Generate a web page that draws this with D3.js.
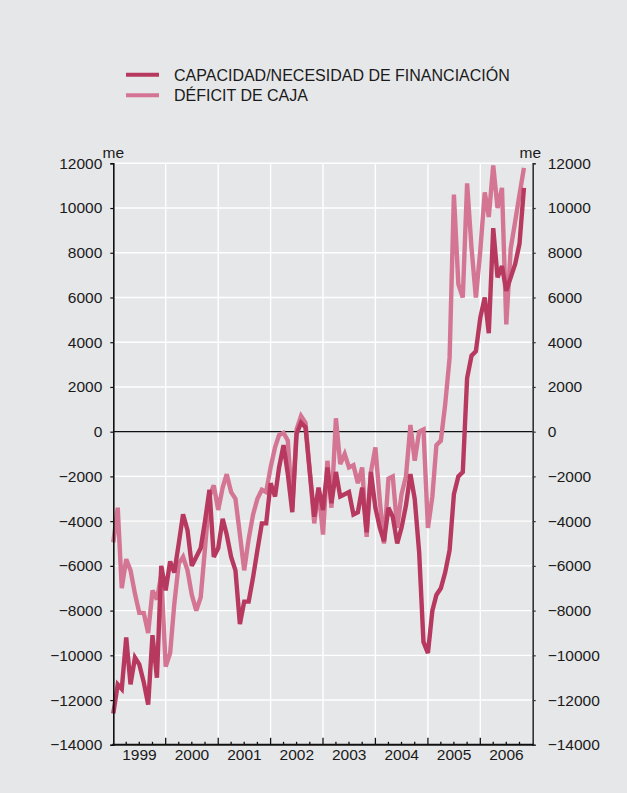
<!DOCTYPE html>
<html>
<head>
<meta charset="utf-8">
<script src="https://cdn.jsdelivr.net/npm/d3@7"></script>
<style>
  html, body { margin: 0; padding: 0; background: #e6e7e9; }
  svg { display: block; }
  text { font-family: "Liberation Sans", Arial, Helvetica, sans-serif; fill: #1a1a1a; }
</style>
</head>
<body>
<svg id="chart" width="627" height="793"></svg>
<script>
// Monthly series, January 1999 – November 2006 (millones de euros)
const startYear = 1999;
const capacidad = [
  -12600, -11300, -11500, -9200, -11300, -10100, -10400, -11200, -12200, -9100, -11000, -6000,
  -7100, -5800, -6300, -5000, -3700, -4400, -6000, -5600, -5200, -4000, -2600, -5600,
  -5200, -3900, -4600, -5600, -6200, -8600, -7600, -7600, -6500, -5300, -4100, -4100,
  -2300, -2900, -1600, -600, -1900, -3600, -100, 400, 200, -1800, -3800, -2500,
  -3500, -1600, -3200, -1800, -2900, -2800, -2700, -3700, -3600, -2500, -4500, -1800,
  -3400, -4300, -4900, -3400, -3800, -5000, -4300, -3300, -1900, -3000, -5400, -9400,
  -9900, -8000, -7300, -7000, -6300, -5300, -2800, -2000, -1800, 2400, 3400, 3600,
  5100, 6000, 4400, 9100, 6900, 7400, 6300, 6900, 7500, 8400, 10900
];
const deficitCaja = [
  -4950, -3400, -7000, -5700, -6200, -7250, -8100, -8100, -9000, -7100, -7500, -6400,
  -10500, -9900, -7700, -5900, -5600, -6200, -7300, -8000, -7400, -5200, -2900, -2400,
  -3500, -2500, -1900, -2700, -3000, -4600, -6200, -4800, -3700, -3000, -2600, -2700,
  -1600, -700, -150, -50, -400, -3400, 100, 700, 400, -1800, -4100, -2600,
  -4600, -1300, -3400, 600, -1450, -1000, -1600, -1500, -2300, -1600, -4700, -1800,
  -700, -3100, -5000, -2100, -2000, -4300, -2800, -2000, 300, -1300, 0, 100,
  -4300, -2900, -600, -400, 1200, 3300, 10600, 6600, 6000, 11100, 8200, 6000,
  8100, 10700, 9600, 11900, 10000, 10900, 4800, 8200, 9400, 10600, 11800
];
const yTicks = [-14000, -12000, -10000, -8000, -6000, -4000, -2000, 0, 2000, 4000, 6000, 8000, 10000, 12000];
const yearLabels = ["1999", "2000", "2001", "2002", "2003", "2004", "2005", "2006"];
const seriesNames = ["CAPACIDAD/NECESIDAD DE FINANCIACIÓN", "DÉFICIT DE CAJA"];
const seriesColors = ["#b7395f", "#d37593"];
const unitLabel = "me";

const months = capacidad.map((_, i) => new Date(startYear, i, 1));

const svg = d3.select("#chart");
const W = 627, H = 793;
svg.append("rect").attr("width", W).attr("height", H).attr("fill", "#e6e7e9");

const x = d3.scaleTime()
  .domain([new Date(startYear, 0, 1), new Date(startYear + yearLabels.length, 0, 1)])
  .range([113.3, 532.7]);
const y = d3.scaleLinear().domain([-14000, 12000]).range([744.8, 163.3]);

const [x0, x1] = x.range();
const [yb, yt] = y.range();

// grid
const grid = svg.append("g");
grid.selectAll("line.h").data(yTicks.filter(v => v !== -14000 && v !== 0)).join("line")
  .attr("x1", x0).attr("x2", x1)
  .attr("y1", d => y(d)).attr("y2", d => y(d))
  .attr("stroke", "#ffffff").attr("stroke-width", 1.4);
const yearStarts = d3.range(1, yearLabels.length).map(k => new Date(startYear + k, 0, 1));
grid.selectAll("line.v").data(yearStarts).join("line")
  .attr("x1", d => x(d)).attr("x2", d => x(d))
  .attr("y1", yt).attr("y2", yb)
  .attr("stroke", "#ffffff").attr("stroke-width", 1.4);

// zero line
svg.append("line")
  .attr("x1", x0).attr("x2", x1).attr("y1", y(0)).attr("y2", y(0))
  .attr("stroke", "#111").attr("stroke-width", 1.2);

// series: cash deficit underneath, financing capacity on top
const line = d3.line().x((d, i) => x(months[i])).y(d => y(d));
[[deficitCaja, seriesColors[1]], [capacidad, seriesColors[0]]].forEach(([s, c]) => {
  svg.append("path").datum(s)
    .attr("d", line)
    .attr("fill", "none")
    .attr("stroke", c)
    .attr("stroke-width", 4.4)
    .attr("stroke-linejoin", "miter")
    .attr("stroke-miterlimit", 3);
});

// left axis
const left = svg.append("g").attr("transform", `translate(${x0},0)`)
  .call(d3.axisLeft(y).tickValues(yTicks).tickSize(3).tickPadding(8).tickFormat(d3.format("d")));
left.select(".domain").attr("stroke", "#111").attr("stroke-width", 1.6);
left.selectAll(".tick line").attr("stroke", "#111").attr("stroke-width", 1.2);
left.selectAll(".tick text").attr("font-size", 15.5).attr("font-family", "Liberation Sans, Arial, sans-serif").attr("fill", "#1a1a1a");

// right axis
const right = svg.append("g").attr("transform", `translate(${x1},0)`)
  .call(d3.axisRight(y).tickValues(yTicks).tickSize(3).tickPadding(12).tickFormat(d3.format("d")));
right.select(".domain").attr("stroke", "#333").attr("stroke-width", 1.6);
right.selectAll(".tick line").attr("stroke", "#333").attr("stroke-width", 1.2);
right.selectAll(".tick text").attr("font-size", 15.5).attr("font-family", "Liberation Sans, Arial, sans-serif").attr("fill", "#1a1a1a");

// bottom axis: quarterly ticks pointing up, longer at year starts
const bottom = svg.append("g");
bottom.append("line").attr("x1", x0 - 1).attr("x2", x1 + 1).attr("y1", yb).attr("y2", yb)
  .attr("stroke", "#111").attr("stroke-width", 2);
const quarters = d3.timeMonth.every(3).range(new Date(startYear, 3, 1), new Date(startYear + yearLabels.length, 0, 1));
bottom.selectAll("line.q").data(quarters).join("line")
  .attr("x1", d => x(d)).attr("x2", d => x(d))
  .attr("y1", yb).attr("y2", d => yb - (d.getMonth() === 0 ? 7 : 3))
  .attr("stroke", "#111").attr("stroke-width", 1.3);
bottom.selectAll("text").data(yearLabels).join("text")
  .attr("x", (d, k) => (x(new Date(startYear + k, 0, 1)) + x(new Date(startYear + k + 1, 0, 1))) / 2)
  .attr("y", 760)
  .attr("text-anchor", "middle")
  .attr("font-size", 15.5)
  .text(d => d);

// unit labels
svg.append("text").attr("x", 102.5).attr("y", 158).attr("font-size", 15.5).text(unitLabel);
svg.append("text").attr("x", 519.5).attr("y", 158).attr("font-size", 15.5).text(unitLabel);

// legend
const legend = svg.append("g");
const legendRows = [
  { name: seriesNames[0], color: seriesColors[0], y: 74.7 },
  { name: seriesNames[1], color: seriesColors[1], y: 95.3 }
];
legendRows.forEach(r => {
  legend.append("line").attr("x1", 126).attr("x2", 159).attr("y1", r.y).attr("y2", r.y)
    .attr("stroke", r.color).attr("stroke-width", 4);
  legend.append("text").attr("x", 174).attr("y", r.y + 6).attr("font-size", 16).text(r.name);
});
</script>
</body>
</html>
